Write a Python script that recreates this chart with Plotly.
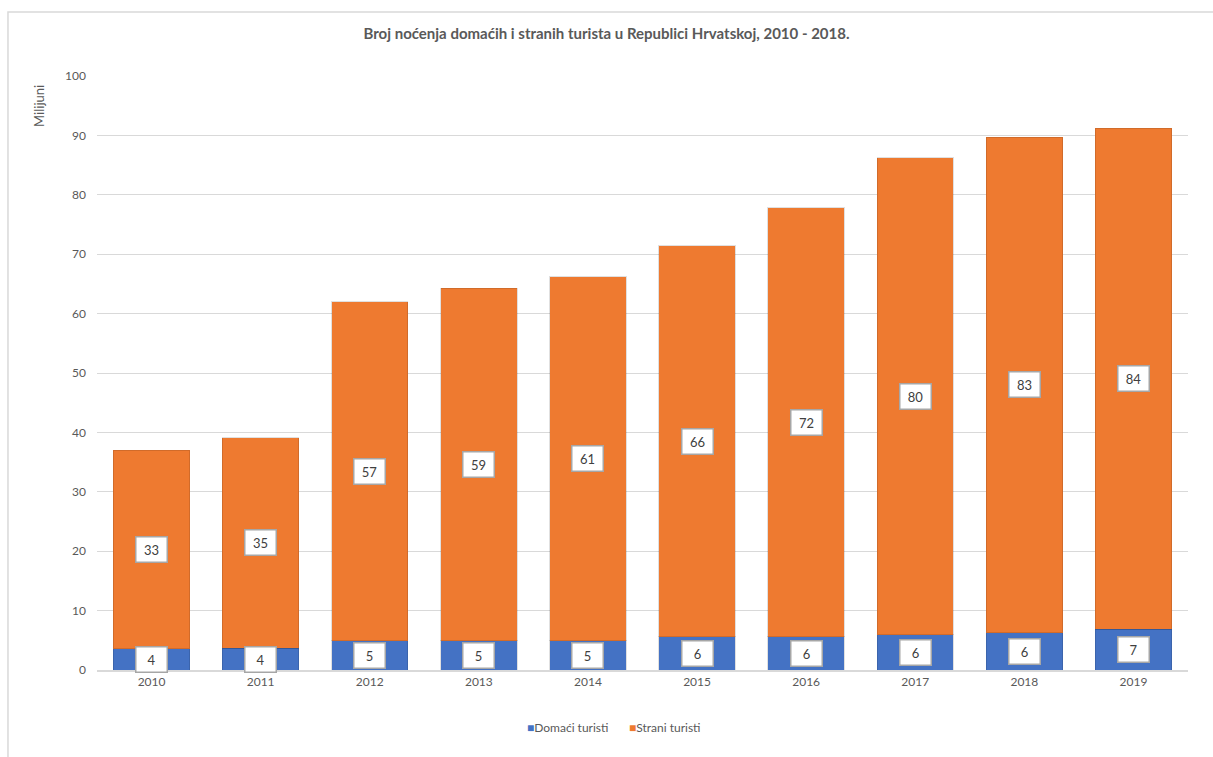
import plotly.graph_objects as go

# Noćenja turista po godinama (u milijunima)
years = ["2010", "2011", "2012", "2013", "2014", "2015", "2016", "2017", "2018", "2019"]
domaci = [3.6, 3.7, 4.9, 4.9, 4.9, 5.6, 5.6, 5.9, 6.3, 6.9]
strani = [33.4, 35.4, 57.1, 59.4, 61.3, 65.8, 72.2, 80.3, 83.4, 84.3]

title_text = "Broj noćenja domaćih i stranih turista u Republici Hrvatskoj, 2010 - 2018."
y_title = "Milijuni"
series_names = ["Domaći turisti", "Strani turisti"]
series_colors = ["#4472C4", "#EE7A30"]

FONT = "Lato, 'Open Sans', sans-serif"
TXT = "#595959"

fig = go.Figure()
for vals, name, col in zip((domaci, strani), series_names, series_colors):
    fig.add_trace(go.Bar(
        x=years, y=vals, name=name, showlegend=False,
        marker=dict(color=col, line=dict(color="rgba(0,0,0,0.12)", width=1)),
    ))

# Oznake vrijednosti u bijelim okvirima, u sredini svakog segmenta
annotations = []
for i, (d, s) in enumerate(zip(domaci, strani)):
    for val, mid in ((d, d / 2), (s, d + s / 2)):
        annotations.append(dict(
            x=i, y=mid, xref="x", yref="y", text=f"{val:.0f}", showarrow=False,
            font=dict(family=FONT, size=13, color="#404040"),
            bgcolor="white", bordercolor="#A6A6A6", borderwidth=1.5, borderpad=1,
            width=28, height=22,
        ))

annotations.append(dict(
    x=-0.053, y=0.95, xref="paper", yref="paper", xanchor="center", yanchor="middle",
    text=y_title, textangle=-90, showarrow=False,
    font=dict(family=FONT, size=13, color=TXT),
))

# Legenda: kvadratić u boji serije uz naziv
legend_x = [0.3925, 0.4862]
for lx, name, col in zip(legend_x, series_names, series_colors):
    annotations.append(dict(
        x=lx, y=-0.0976, xref="paper", yref="paper", xanchor="left", yanchor="middle",
        text=f"<span style='color:{col}'>■</span>{name}", showarrow=False,
        font=dict(family=FONT, size=12, color=TXT),
    ))

fig.update_layout(
    width=1213, height=757,
    margin=dict(l=97, r=25, t=76, b=87),
    paper_bgcolor="white", plot_bgcolor="white",
    barmode="stack", bargap=0.3, showlegend=False,
    title=dict(text=f"<b>{title_text}</b>", x=0.5, xanchor="center",
               y=1 - 34 / 757, yanchor="middle",
               font=dict(family=FONT, size=15, color=TXT)),
    font=dict(family=FONT, size=12, color=TXT),
    xaxis=dict(type="category", showgrid=False, showline=True, linecolor="#D9D9D9",
               linewidth=1.5, ticks="", tickfont=dict(size=12, color=TXT)),
    yaxis=dict(range=[0, 100], dtick=10, showgrid=True, gridcolor="#D9D9D9",
               gridwidth=1, zeroline=False, ticks="", ticklabelstandoff=10,
               tickfont=dict(size=12, color=TXT)),
    annotations=annotations,
    shapes=[dict(type="rect", xref="paper", yref="paper",
                 x0=-0.0816, x1=1.2, y0=-0.3, y1=1.1077,
                 line=dict(color="#D9D9D9", width=1.5), layer="below")],
)

fig.write_html("out.html")
